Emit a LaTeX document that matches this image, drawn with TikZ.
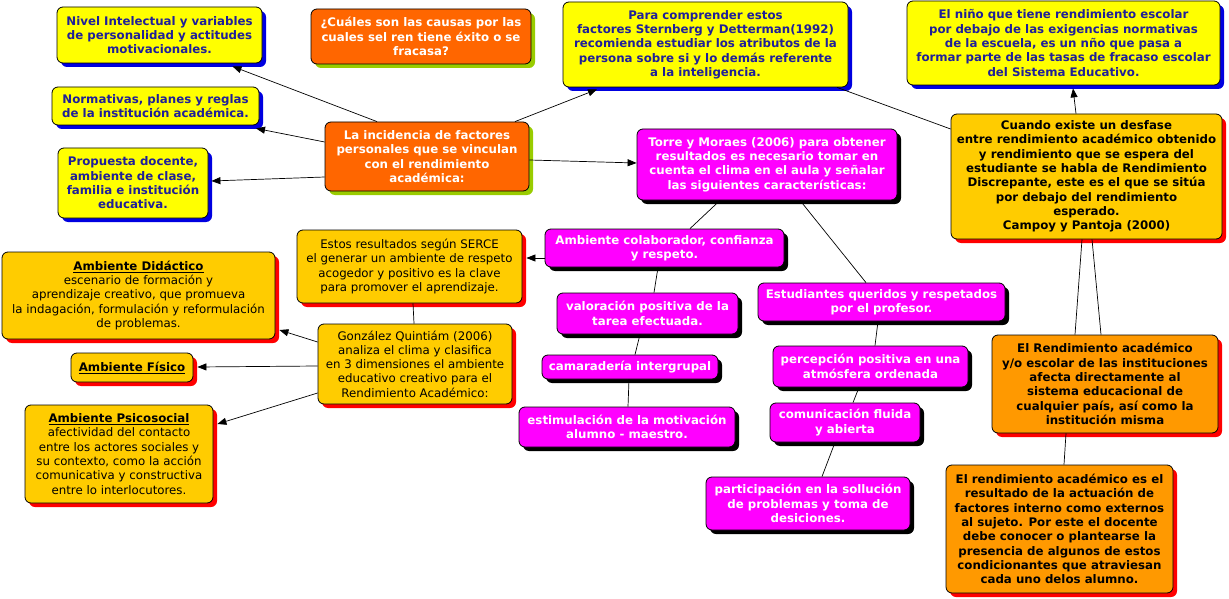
\documentclass[tikz,border=0pt]{standalone}
\usepackage{fontspec}
\setmainfont{DejaVu Sans}
\usetikzlibrary{shadows,arrows.meta}
\definecolor{yel}{HTML}{FFFF00}
\definecolor{bshad}{HTML}{0000E0}
\definecolor{navy}{HTML}{1F1F99}
\definecolor{org}{HTML}{FF6600}
\definecolor{gshad}{HTML}{99CC00}
\definecolor{mag}{HTML}{FF00FF}
\definecolor{gold}{HTML}{FFCC00}
\definecolor{org2}{HTML}{FF9900}
\definecolor{rshad}{HTML}{FF0000}
\tikzset{
  box/.style={draw=black, line width=0.8pt, rounded corners=6pt, align=center, inner sep=0pt,
    font=\fontsize{11.8}{14.3}\selectfont\bfseries},
  shad/.style={drop shadow={shadow xshift=4pt, shadow yshift=-4pt, fill=#1, opacity=1}},
  ybox/.style={box, fill=yel, text=navy, shad=bshad},
  obox/.style={box, fill=org, text=white, shad=gshad},
  mbox/.style={box, fill=mag, text=white, shad=black},
  gbox/.style={box, fill=gold, text=black, shad=rshad},
  gnbox/.style={gbox, font=\fontsize{11.8}{14.3}\selectfont\mdseries},
  o2box/.style={box, fill=org2, text=black, shad=rshad},
  con/.style={draw=black, line width=0.7pt},
  arr/.style={con, -{Triangle[length=9pt,width=7pt]}}
}
\begin{document}
\begin{tikzpicture}[x=1pt,y=-1pt]
\useasboundingbox (0,0) rectangle (1229,599);
% yellow boxes
\node[ybox, minimum width=205pt, minimum height=56pt] (niv) at (159.5,35) {Nivel Intelectual y variables\\de personalidad y actitudes\\motivacionales.};
\node[ybox, minimum width=207pt, minimum height=38pt] (nor) at (155.5,106) {Normativas, planes y reglas\\de la institución académica.};
\node[ybox, minimum width=150pt, minimum height=70pt] (pro) at (133,183) {Propuesta docente,\\ambiente de clase,\\familia e institución\\educativa.};
\node[ybox, minimum width=285pt, minimum height=85pt] (para) at (705.5,44.5) {Para comprender estos\\factores Sternberg y Detterman(1992)\\recomienda estudiar los atributos de la\\persona sobre si y lo demás referente\\a la inteligencia.};
\node[ybox, minimum width=313pt, minimum height=84pt] (nino) at (1063.5,43) {El niño que tiene rendimiento escolar\\por debajo de las exigencias normativas\\de la escuela, es un nño que pasa a\\formar parte de las tasas de fracaso escolar\\del Sistema Educativo.};
% orange boxes
\node[obox, minimum width=220pt, minimum height=55pt] (cual) at (421,36.5) {¿Cuáles son las causas por las\\cuales sel ren tiene éxito o se\\fracasa?};
\node[obox, minimum width=204pt, minimum height=69pt] (inc) at (427,156.5) {La incidencia de factores\\personales que se vinculan\\con el rendimiento\\académica:};
% gold boxes
\node[gbox, minimum width=271pt, minimum height=125pt] (cua) at (1086.5,176.5) {Cuando existe un desfase\\entre rendimiento académico obtenido\\y rendimiento que se espera del\\estudiante se habla de Rendimiento\\Discrepante, este es el que se sitúa\\por debajo del rendimiento\\esperado.\\Campoy y Pantoja (2000)};
\node[gnbox, minimum width=225pt, minimum height=73pt] (estos) at (409.5,266.5) {Estos resultados según SERCE\\el generar un ambiente de respeto\\acogedor y positivo es la clave\\para promover el aprendizaje.};
\node[gnbox, minimum width=194pt, minimum height=80pt] (gonz) at (415,364) {González Quintiám (2006)\\analiza el clima y clasifica\\en 3 dimensiones el ambiente\\educativo creativo para el\\Rendimiento Académico:};
\node[gnbox, minimum width=273pt, minimum height=87pt] (did) at (138.5,295.5) {\textbf{\underline{Ambiente Didáctico}}\\escenario de formación y\\aprendizaje creativo, que promueva\\la indagación, formulación y reformulación\\de problemas.};
\node[gnbox, minimum width=122pt, minimum height=29pt] (fis) at (132,367.5) {\textbf{\underline{Ambiente Físico}}};
\node[gnbox, minimum width=188pt, minimum height=98pt] (psi) at (119,454) {\textbf{\underline{Ambiente Psicosocial}}\\afectividad del contacto\\entre los actores sociales y\\su contexto, como la acción\\comunicativa y constructiva\\entre lo interlocutores.};
% orange2 boxes
\node[o2box, minimum width=226pt, minimum height=98pt] (elr) at (1105,384) {El Rendimiento académico\\y/o escolar de las instituciones\\afecta directamente al\\sistema educacional de\\cualquier país, así como la\\institución misma};
\node[o2box, minimum width=227pt, minimum height=128pt] (eres) at (1059.5,529) {El rendimiento académico es el\\resultado de la actuación de\\factores interno como externos\\al sujeto. Por este el docente\\debe conocer o plantearse la\\presencia de algunos de estos\\condicionantes que atraviesan\\cada uno delos alumno.};
% magenta boxes
\node[mbox, minimum width=260pt, minimum height=71pt] (tor) at (767,164.5) {Torre y Moraes (2006) para obtener\\resultados es necesario tomar en\\cuenta el clima en el aula y señalar\\las siguientes características:};
\node[mbox, minimum width=239pt, minimum height=38pt] (ambc) at (664.5,248) {Ambiente colaborador, confianza\\y respeto.};
\node[mbox, minimum width=247pt, minimum height=38pt] (est) at (881.5,302) {Estudiantes queridos y respetados\\por el profesor.};
\node[mbox, minimum width=181pt, minimum height=41pt] (val) at (647.5,313.5) {valoración positiva de la\\tarea efectuada.};
\node[mbox, minimum width=176pt, minimum height=24pt] (cam) at (630,367) {camaradería intergrupal};
\node[mbox, minimum width=216pt, minimum height=40pt] (estim) at (627,427) {estimulación de la motivación\\alumno - maestro.};
\node[mbox, minimum width=195pt, minimum height=41pt] (perc) at (870.5,366.5) {percepción positiva en una\\atmósfera ordenada};
\node[mbox, minimum width=150pt, minimum height=39pt] (comu) at (845,422.5) {comunicación fluida\\y abierta};
\node[mbox, minimum width=204pt, minimum height=53pt] (part) at (808,503.5) {participación en la sollución\\de problemas y toma de\\desiciones.};
% connectors
\draw[arr] ([xshift=-50pt]inc.north) -- ([xshift=73pt,yshift=-3pt]niv.south);
\draw[arr] ([yshift=14.5pt]inc.west) -- ([xshift=100.5pt,yshift=-3pt]nor.south);
\draw[arr] ([yshift=-20.5pt]inc.west) -- ([xshift=3pt,yshift=2pt]pro.east);
\draw[arr] ([xshift=88pt]inc.north) -- ([xshift=-108.5pt,yshift=-2pt]para.south);
\draw[arr] ([yshift=-3.5pt]inc.east) -- ([yshift=1.5pt]tor.west);
\draw[con] ([xshift=131.5pt]para.south) -- ([yshift=47.5pt]cua.west);
\draw[arr] ([xshift=-10.5pt]cua.north) -- ([xshift=9.5pt,yshift=-3pt]nino.south);
\draw[con] ([xshift=-4.5pt]cua.south) -- ([xshift=-30pt]elr.north);
\draw[con] ([xshift=5.5pt]cua.south) -- ([xshift=-4pt]elr.north);
\draw[con] ([xshift=-39pt]elr.south) -- ([xshift=4.5pt]eres.north);
\draw[con] ([xshift=-47pt]tor.south) -- ([xshift=25.5pt]ambc.north);
\draw[con] ([xshift=33pt]tor.south) -- ([xshift=-15.5pt]est.north);
\draw[arr] ([yshift=-10pt]ambc.west) -- ([xshift=4pt,yshift=8.5pt]estos.east);
\draw[con] ([xshift=-6.5pt]ambc.south) -- ([xshift=6.5pt]val.north);
\draw[con] ([xshift=-7.5pt]val.south) -- ([xshift=5pt]cam.north);
\draw[con] ([xshift=-1pt]cam.south) -- ([xshift=1pt]estim.north);
\draw[con] ([xshift=-3.5pt]est.south) -- ([xshift=4.5pt]perc.north);
\draw[con] ([xshift=-11.5pt]perc.south) -- ([xshift=8pt]comu.north);
\draw[con] ([xshift=-10pt]comu.south) -- ([xshift=14pt]part.north);
\draw[con] ([xshift=3.5pt]estos.south) -- ([xshift=-1pt]gonz.north);
\draw[arr] ([yshift=22pt]gonz.west) -- ([xshift=4pt,yshift=-34.5pt]did.east);
\draw[arr] ([yshift=-2pt]gonz.west) -- ([xshift=4pt,yshift=0.5pt]fis.east);
\draw[arr] ([yshift=-29pt]gonz.west) -- ([xshift=4pt,yshift=30pt]psi.east);
\end{tikzpicture}
\end{document}
